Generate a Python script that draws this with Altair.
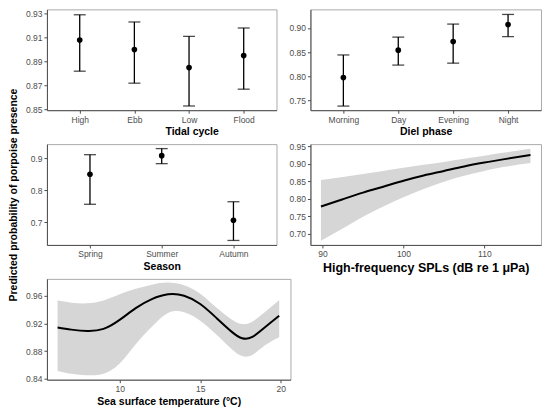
import altair as alt
import pandas as pd

# ---------------- data ----------------
tidal_cats = ["High", "Ebb", "Low", "Flood"]
tidal_fit = [0.908, 0.900, 0.885, 0.895]
tidal_lo = [0.882, 0.872, 0.853, 0.867]
tidal_hi = [0.929, 0.923, 0.911, 0.918]

diel_cats = ["Morning", "Day", "Evening", "Night"]
diel_fit = [0.797, 0.854, 0.872, 0.907]
diel_lo = [0.738, 0.823, 0.827, 0.882]
diel_hi = [0.844, 0.881, 0.908, 0.928]

season_cats = ["Spring", "Summer", "Autumn"]
season_fit = [0.850, 0.908, 0.706]
season_lo = [0.756, 0.883, 0.643]
season_hi = [0.911, 0.930, 0.764]

spl_x = [89.8, 92.5, 95.0, 97.5, 100.0, 102.5, 105.0, 107.5, 110.0, 112.5, 115.7]
spl_fit = [0.778, 0.799, 0.818, 0.835, 0.852, 0.867, 0.880, 0.893, 0.904, 0.914, 0.926]
spl_hi = [0.854, 0.863, 0.871, 0.880, 0.889, 0.898, 0.906, 0.915, 0.924, 0.933, 0.944]
spl_lo = [0.680, 0.715, 0.749, 0.778, 0.805, 0.828, 0.849, 0.866, 0.880, 0.892, 0.903]

sst_x = [6.15, 7.0, 8.0, 9.0, 10.0, 11.0, 12.0, 13.0, 14.0, 15.0, 16.0, 17.0, 17.6, 18.2, 19.0, 19.9]
sst_fit = [0.914, 0.911, 0.909, 0.912, 0.925, 0.942, 0.955, 0.962, 0.960, 0.948, 0.928, 0.907, 0.8985, 0.900, 0.914, 0.931]
sst_hi = [0.953, 0.950, 0.949, 0.953, 0.962, 0.970, 0.976, 0.979, 0.975, 0.963, 0.943, 0.925, 0.919, 0.922, 0.936, 0.954]
sst_lo = [0.851, 0.847, 0.845, 0.847, 0.862, 0.890, 0.915, 0.935, 0.936, 0.924, 0.904, 0.882, 0.873, 0.874, 0.888, 0.900]

YTITLE = "Predicted probability of porpoise presence"
FONT = "Liberation Sans"
BLACK = "#000000"


def cat_panel(cats, fit, lo, hi, xtitle, ydomain, yticks, yfmt, width, height,
              ytitle=None, title_shift=0):
    df = pd.DataFrame({"cat": cats, "fit": fit, "lo": lo, "hi": hi})
    x = alt.X("cat:N", sort=cats, scale=alt.Scale(type="point", padding=0.6),
              axis=alt.Axis(title=xtitle, labelAngle=0, titleX=width / 2 + title_shift,
                            titleAlign="center"))
    yscale = alt.Scale(domain=ydomain, nice=False, zero=False)
    if ytitle:
        yaxis = alt.Axis(title=ytitle, values=yticks, format=yfmt, titleX=-33,
                         titleBaseline="middle")
    else:
        yaxis = alt.Axis(title=None, values=yticks, format=yfmt)
    base = alt.Chart(df)
    rule = base.mark_rule(color=BLACK, strokeWidth=1.3).encode(
        x=x, y=alt.Y("lo:Q", scale=yscale, axis=yaxis), y2="hi:Q")
    cap_lo = base.mark_tick(color=BLACK, orient="horizontal", size=12, thickness=1.3).encode(
        x=x, y=alt.Y("lo:Q", scale=yscale, axis=yaxis))
    cap_hi = base.mark_tick(color=BLACK, orient="horizontal", size=12, thickness=1.3).encode(
        x=x, y=alt.Y("hi:Q", scale=yscale, axis=yaxis))
    pt = base.mark_circle(color=BLACK, size=32, opacity=1).encode(
        x=x, y=alt.Y("fit:Q", scale=yscale, axis=yaxis))
    return alt.layer(rule, cap_lo, cap_hi, pt).properties(width=width, height=height)


def cont_panel(xs, fit, lo, hi, xtitle, xdomain, xticks, ydomain, yticks, yfmt, width, height, tsize):
    df = pd.DataFrame({"x": xs, "fit": fit, "lo": lo, "hi": hi})
    xenc = alt.X("x:Q", scale=alt.Scale(domain=xdomain, nice=False, zero=False),
                 axis=alt.Axis(title=xtitle, values=xticks, format="d", titleFontSize=tsize,
                               titleX=width / 2, titleAlign="center"))
    yscale = alt.Scale(domain=ydomain, nice=False, zero=False)
    yaxis = alt.Axis(title=None, values=yticks, format=yfmt)
    base = alt.Chart(df)
    band = base.mark_area(color="#D6D6D6", opacity=1, interpolate="natural").encode(
        x=xenc, y=alt.Y("lo:Q", scale=yscale, axis=yaxis), y2="hi:Q")
    line = base.mark_line(color=BLACK, strokeWidth=2, interpolate="natural").encode(
        x=xenc, y=alt.Y("fit:Q", scale=yscale, axis=yaxis))
    return alt.layer(band, line).properties(width=width, height=height)


p1 = cat_panel(tidal_cats, tidal_fit, tidal_lo, tidal_hi, "Tidal cycle",
               [0.8495, 0.9335], [0.85, 0.87, 0.89, 0.91, 0.93], ".2f", 230, 101,
               title_shift=30)
p2 = cat_panel(diel_cats, diel_fit, diel_lo, diel_hi, "Diel phase",
               [0.7295, 0.9385], [0.75, 0.80, 0.85, 0.90], ".2f", 231, 101)
p3 = cat_panel(season_cats, season_fit, season_lo, season_hi, "Season",
               [0.629, 0.944], [0.7, 0.8, 0.9], ".1f", 230, 101, ytitle=YTITLE)
p4 = cont_panel(spl_x, spl_fit, spl_lo, spl_hi, "High-frequency SPLs (dB re 1 μPa)",
                [88.5, 117.0], [90, 100, 110], [0.668, 0.957],
                [0.70, 0.75, 0.80, 0.85, 0.90, 0.95], ".2f", 231, 101, 12.5)
p5 = cont_panel(sst_x, sst_fit, sst_lo, sst_hi, "Sea surface temperature (°C)",
                [5.49, 20.6], [10, 15, 20], [0.8386, 0.9844],
                [0.84, 0.88, 0.92, 0.96], ".2f", 244, 101, 10.5)

chart = alt.concat(
    p1, p2, p3, p4, p5,
    columns=2,
    spacing={"row": 34, "column": 20},
    bounds="flush",
).properties(
    padding=0
).configure_axis(
    labelFont=FONT, labelFontSize=8.5, labelColor="#4D4D4D",
    titleFont=FONT, titleFontSize=10.5, titleFontWeight="bold", titleColor="black",
    domainColor="#4D4D4D", tickColor="#4D4D4D", tickSize=3, domainWidth=1, tickWidth=1,
    grid=False, labelPadding=2, titlePadding=3,
).configure_view(
    stroke="#ABABAB", strokeWidth=1
)

chart.save("out.html", embed_options={"renderer": "svg", "actions": False})
